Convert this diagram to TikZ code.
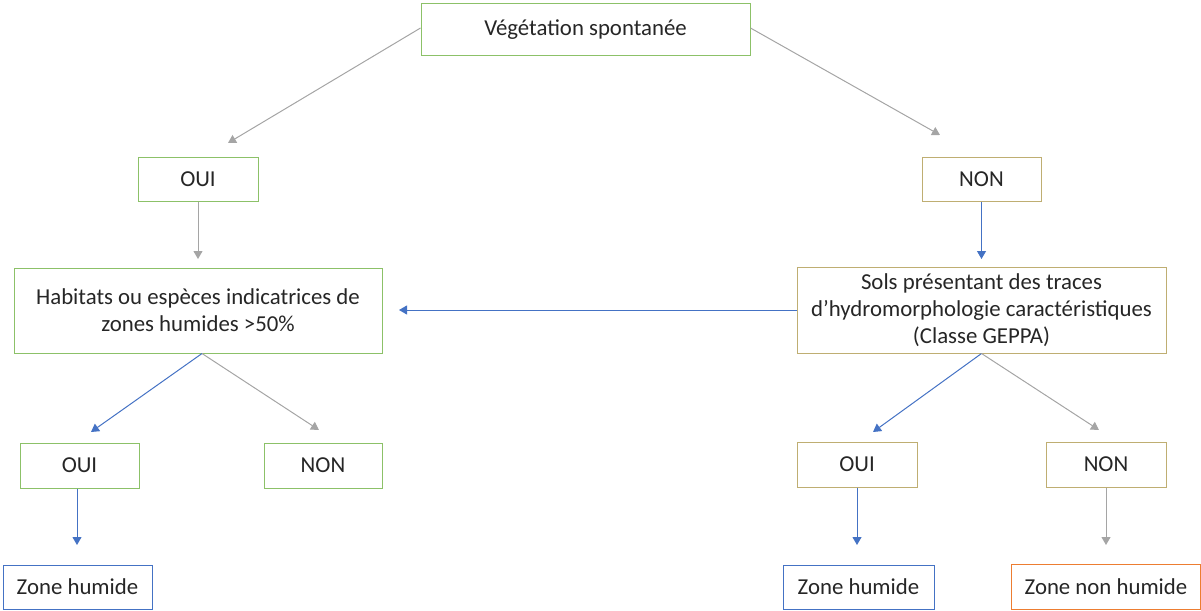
\documentclass[tikz,border=0pt]{standalone}
\usepackage{fontspec}
\setmainfont{Carlito}
\usetikzlibrary{arrows.meta}
\definecolor{cgreen}{HTML}{8CC168}
\definecolor{ctan}{HTML}{BFAE72}
\definecolor{cblue}{HTML}{4472C4}
\definecolor{cgray}{HTML}{A5A5A5}
\definecolor{corange}{HTML}{ED7D31}
\definecolor{ctext}{HTML}{262626}
\begin{document}
\begin{tikzpicture}[x=1pt,y=-1pt,
  box/.style={draw=#1, line width=1pt, fill=white, text=ctext, inner sep=0pt, align=center, font=\fontsize{22.8}{27}\selectfont},
  gline/.style={draw=cgray, line width=1pt, -{Triangle[width=9pt,length=8pt]}},
  bline/.style={draw=cblue, line width=1pt, -{Triangle[width=9pt,length=8pt]}}]
\useasboundingbox (0,0) rectangle (1201,610);
% nodes
\node[box=cgreen, minimum width=329pt, minimum height=52pt] (top) at (585.5,30) {Végétation spontanée};
\node[box=cgreen, minimum width=120pt, minimum height=44pt] (oui1) at (198,179) {OUI};
\node[box=ctan, minimum width=119pt, minimum height=44pt] (non1) at (981.5,179) {NON};
\node[box=cgreen, minimum width=368pt, minimum height=85pt] (hab) at (198,310.5) {Habitats ou espèces indicatrices de\\zones humides >50\%};
\node[box=ctan, minimum width=369pt, minimum height=86pt] (sols) at (981.5,310) {Sols présentant des traces\\d’hydromorphologie caractéristiques\\(Classe GEPPA)};
\node[box=cgreen, minimum width=119pt, minimum height=45pt] (oui2) at (79.5,465.5) {OUI};
\node[box=cgreen, minimum width=118pt, minimum height=45pt] (non2) at (323,465.5) {NON};
\node[box=ctan, minimum width=120pt, minimum height=45pt] (oui3) at (857,464.5) {OUI};
\node[box=ctan, minimum width=120pt, minimum height=45pt] (non3) at (1106,464.5) {NON};
\node[box=cblue, minimum width=149pt, minimum height=44pt] (zh1) at (77.5,587) {Zone humide};
\node[box=cblue, minimum width=151pt, minimum height=44pt] (zh2) at (858.5,587) {Zone humide};
\node[box=corange, minimum width=189pt, minimum height=45pt] (znh) at (1106,586.5) {Zone non humide};
% free ends
\coordinate (e1) at (228,143);
\coordinate (e2) at (940,135);
\coordinate (e3) at (198,259);
\coordinate (e4) at (981.5,259);
\coordinate (e5) at (399,310);
\coordinate (e6) at (91,432);
\coordinate (e7) at (319,430);
\coordinate (e8) at (873,432);
\coordinate (e9) at (1099,430);
\coordinate (e10) at (77,545);
\coordinate (e11) at (857,545);
\coordinate (e12) at (1106,545);
% connectors
\draw[gline] ([yshift=2pt]top.west) -- (e1);
\draw[gline] ([yshift=2pt]top.east) -- (e2);
\draw[gline] (oui1.south) -- (e3);
\draw[bline] (non1.south) -- (e4);
\draw[bline] (sols.west) -- (e5);
\draw[bline] ([xshift=4pt]hab.south) -- (e6);
\draw[gline] ([xshift=4pt]hab.south) -- (e7);
\draw[bline] (sols.south) -- (e8);
\draw[gline] (sols.south) -- (e9);
\draw[bline] ([xshift=-2.5pt]oui2.south) -- (e10);
\draw[bline] (oui3.south) -- (e11);
\draw[gline] (non3.south) -- (e12);
\end{tikzpicture}
\end{document}
